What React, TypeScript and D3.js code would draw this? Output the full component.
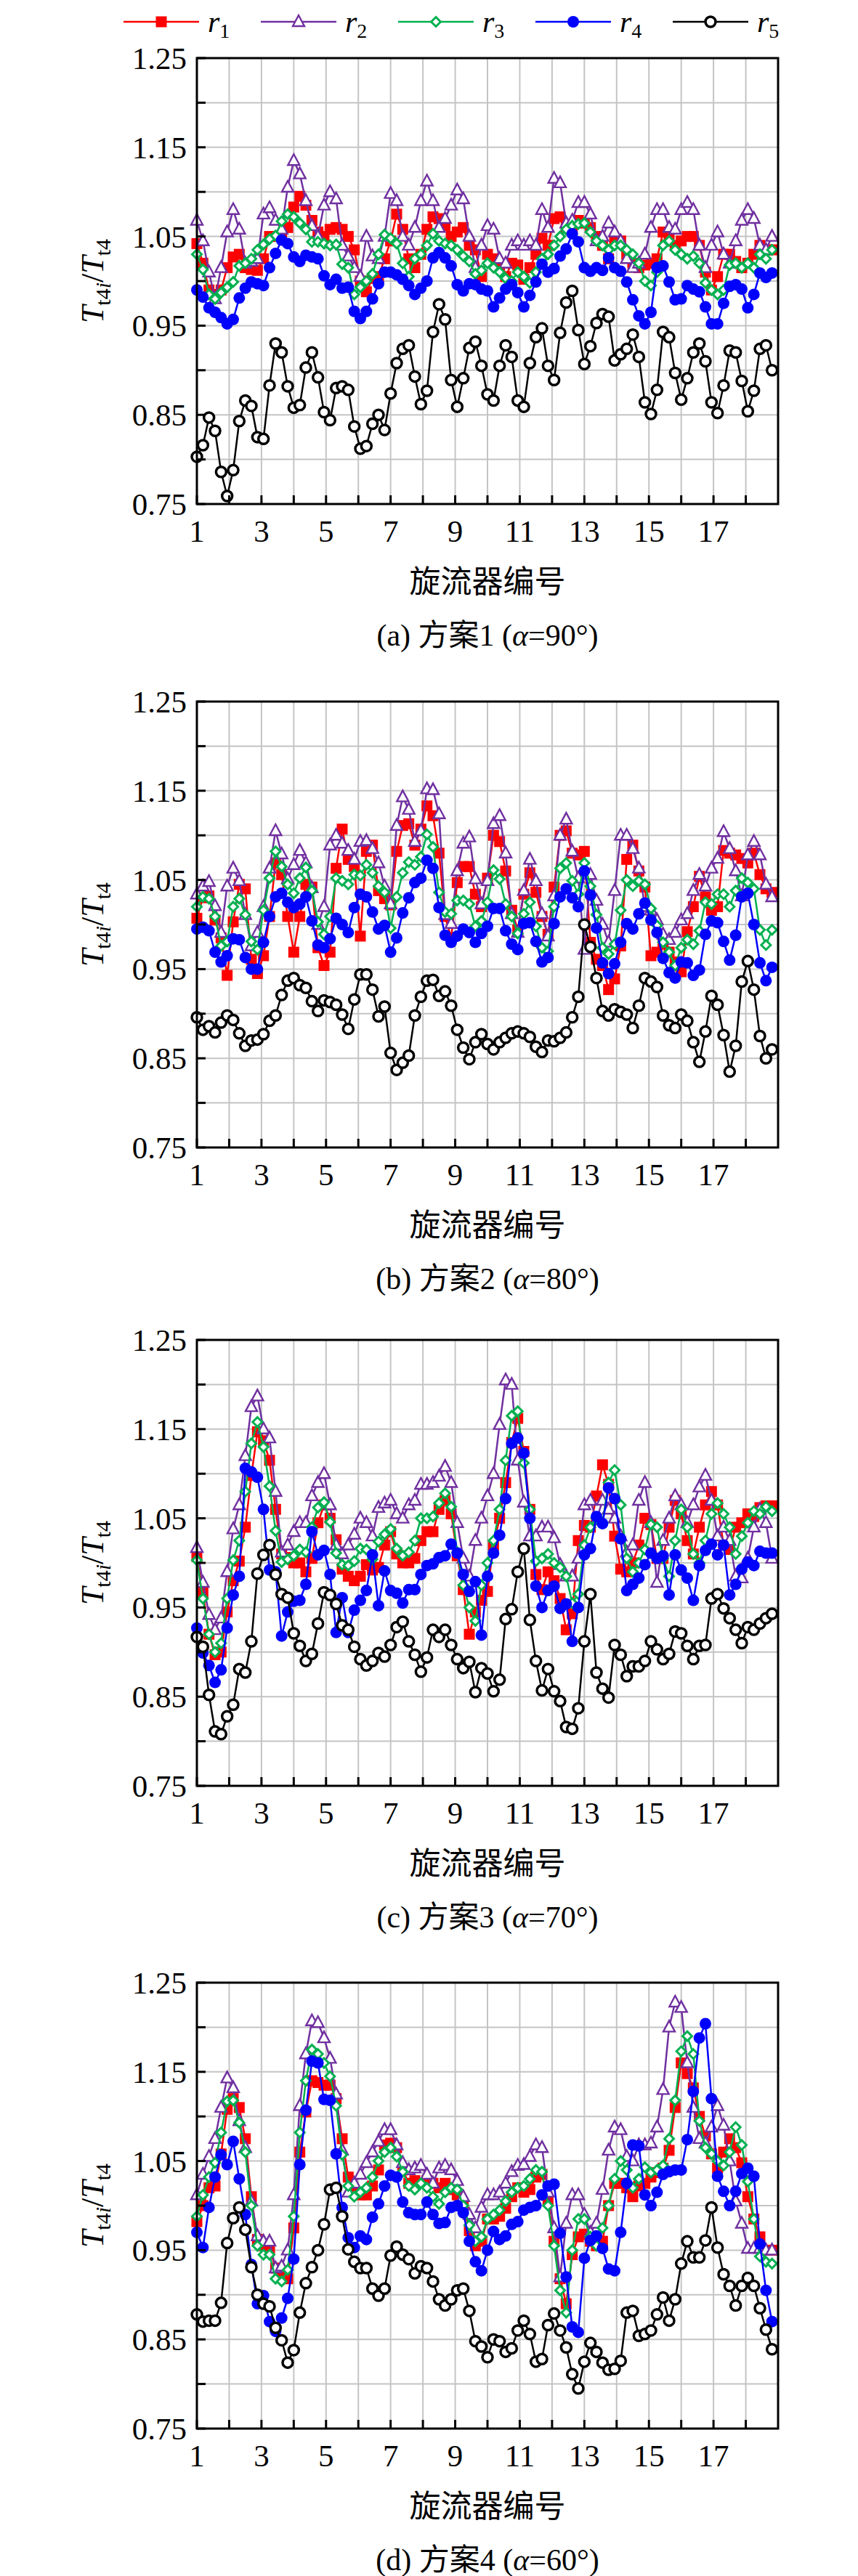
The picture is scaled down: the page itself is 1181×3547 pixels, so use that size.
import { useEffect } from "react";
import * as d3 from "d3";

// swirler position of each of the 96 circumferential samples
const N = 96;
const xs = d3.range(N).map((i) => 1 + (i * 18) / N);

const yTicks = [0.75, 0.85, 0.95, 1.05, 1.15, 1.25];
const xTicks = [1, 3, 5, 7, 9, 11, 13, 15, 17];
const seriesNames = ["1", "2", "3", "4", "5"];
const captions = [
  { tag: "(a) 方案1 (", ang: "90°)" },
  { tag: "(b) 方案2 (", ang: "80°)" },
  { tag: "(c) 方案3 (", ang: "70°)" },
  { tag: "(d) 方案4 (", ang: "60°)" },
];

// ---- panel (a) alpha = 90
const a1 = [1.042,1.020,0.990,0.985,0.990,1.015,1.027,1.030,1.015,1.013,1.012,1.025,1.050,1.050,1.050,1.060,1.083,1.095,1.085,1.068,1.055,1.050,1.058,1.060,1.058,1.050,1.035,1.000,0.988,1.003,1.005,1.025,1.045,1.075,1.058,1.025,1.015,1.030,1.058,1.072,1.070,1.062,1.050,1.055,1.060,1.040,1.035,1.005,1.030,1.025,1.015,1.005,1.020,1.018,1.002,1.015,1.030,1.048,1.040,1.070,1.072,1.060,1.060,1.068,1.065,1.060,1.050,1.040,1.025,1.045,1.045,1.030,1.020,1.015,1.018,1.020,1.025,1.055,1.050,1.040,1.045,1.050,1.050,1.040,1.010,0.990,1.005,1.030,1.030,1.022,1.015,1.020,1.030,1.040,1.035,1.035];
const a2 = [1.068,1.045,1.010,0.980,1.015,1.055,1.080,1.058,1.020,1.022,1.025,1.075,1.082,1.068,1.058,1.105,1.135,1.120,1.090,1.062,1.050,1.085,1.100,1.092,1.040,1.028,1.015,1.005,1.050,1.028,1.025,1.050,1.098,1.090,1.050,1.040,1.060,1.090,1.112,1.090,1.060,1.070,1.085,1.102,1.092,1.050,1.015,1.040,1.062,1.058,1.025,1.020,1.040,1.045,1.040,1.045,1.040,1.080,1.060,1.115,1.110,1.065,1.068,1.088,1.088,1.075,1.045,1.050,1.065,1.055,1.045,1.025,1.015,1.020,1.030,1.060,1.080,1.080,1.060,1.058,1.080,1.088,1.080,1.040,1.015,1.040,1.055,1.030,1.020,1.045,1.068,1.080,1.070,1.040,1.035,1.050];
const a3 = [1.030,1.013,0.985,0.980,0.987,0.993,0.999,1.017,1.020,1.025,1.035,1.041,1.047,1.051,1.067,1.075,1.072,1.065,1.058,1.044,1.044,1.042,1.040,1.041,1.019,1.015,0.985,0.993,1.000,1.008,1.030,1.052,1.048,1.042,1.020,1.005,1.025,1.030,1.040,1.053,1.045,1.042,1.040,1.035,1.028,1.022,1.008,1.012,1.020,1.015,1.010,1.003,1.000,1.010,1.005,0.998,1.010,1.025,1.030,1.040,1.050,1.058,1.062,1.064,1.065,1.055,1.045,1.040,1.035,1.040,1.040,1.035,1.030,1.020,1.000,0.995,1.010,1.040,1.045,1.035,1.030,1.025,1.028,1.020,0.998,0.990,0.985,0.990,1.018,1.020,1.015,1.020,1.015,1.030,1.025,1.035];
const a4 = [0.990,0.982,0.970,0.965,0.959,0.952,0.957,0.981,0.992,0.999,0.997,0.995,1.015,1.031,1.046,1.042,1.027,1.022,1.029,1.027,1.025,1.006,0.996,1.002,0.992,0.993,0.966,0.958,0.966,0.980,0.997,1.010,1.010,1.007,1.002,0.995,0.985,0.992,1.000,1.026,1.032,1.026,1.017,0.996,0.989,0.997,0.996,0.991,0.989,0.971,0.981,0.991,0.996,0.987,0.971,0.984,0.999,1.019,1.010,1.014,1.028,1.036,1.053,1.044,1.015,1.011,1.015,1.012,1.026,1.015,1.011,0.999,0.979,0.961,0.952,0.965,1.015,1.017,0.999,0.979,0.980,0.995,0.991,0.988,0.971,0.952,0.952,0.975,0.994,0.996,0.991,0.970,0.985,1.009,1.004,1.009];
const a5 = [0.803,0.816,0.847,0.832,0.786,0.759,0.788,0.843,0.866,0.860,0.825,0.823,0.883,0.930,0.920,0.882,0.858,0.861,0.903,0.920,0.892,0.853,0.844,0.880,0.882,0.878,0.837,0.812,0.815,0.840,0.850,0.833,0.874,0.908,0.924,0.928,0.893,0.862,0.877,0.943,0.974,0.957,0.889,0.859,0.891,0.925,0.932,0.905,0.873,0.866,0.905,0.928,0.915,0.866,0.859,0.908,0.937,0.947,0.905,0.889,0.942,0.976,0.989,0.945,0.907,0.927,0.953,0.963,0.960,0.911,0.918,0.924,0.940,0.915,0.864,0.851,0.878,0.943,0.937,0.897,0.867,0.891,0.920,0.930,0.910,0.864,0.852,0.883,0.922,0.920,0.888,0.854,0.877,0.924,0.928,0.900];

// ---- panel (b) alpha = 80
const b1 = [1.007,1.030,1.032,1.005,0.985,0.943,1.003,1.045,1.040,0.961,0.945,0.965,1.009,1.069,1.056,1.009,0.969,1.009,1.045,1.042,0.974,0.954,0.969,1.063,1.107,1.073,1.065,0.987,1.082,1.089,1.038,1.029,1.022,1.082,1.111,1.113,1.089,1.107,1.133,1.122,1.080,1.009,0.985,1.047,1.065,1.065,1.034,1.020,1.052,1.100,1.093,1.060,1.016,0.994,1.034,1.058,1.036,1.009,0.989,1.042,1.100,1.105,1.080,1.078,1.082,0.980,0.961,0.954,0.927,0.939,0.976,1.073,1.089,1.060,1.042,0.965,0.969,0.978,0.969,0.958,0.947,0.992,1.020,1.054,1.031,1.016,1.020,1.083,1.080,1.078,1.074,1.069,1.080,1.056,1.040,1.036];
const b2 = [1.034,1.043,1.048,1.021,0.991,1.043,1.063,1.049,1.011,0.976,0.991,1.020,1.063,1.105,1.079,1.051,1.067,1.083,1.069,1.041,1.000,1.020,1.089,1.100,1.091,1.083,1.073,1.093,1.094,1.085,1.069,1.043,1.023,1.111,1.143,1.129,1.093,1.105,1.152,1.151,1.124,1.011,1.001,1.060,1.091,1.098,1.051,1.023,1.049,1.113,1.122,1.080,1.012,0.991,1.038,1.073,1.049,1.012,0.987,1.032,1.100,1.118,1.082,1.052,0.972,1.056,1.027,1.000,0.980,1.038,1.100,1.100,1.085,1.063,1.020,1.016,1.005,0.989,0.983,0.991,1.005,1.012,1.038,1.056,1.043,1.063,1.074,1.104,1.085,1.060,1.032,1.078,1.093,1.078,1.045,1.031];
const b3 = [1.020,1.031,1.029,1.009,0.976,0.981,1.020,1.029,1.011,0.981,0.972,1.016,1.052,1.082,1.065,1.045,1.035,1.052,1.064,1.038,1.003,0.989,1.009,1.052,1.049,1.045,1.056,1.055,1.067,1.058,1.043,1.036,0.996,1.031,1.058,1.070,1.067,1.076,1.101,1.087,1.036,1.014,1.012,1.027,1.027,1.023,0.998,1.004,1.025,1.061,1.051,1.023,1.009,0.990,1.012,1.025,0.998,0.974,0.970,1.020,1.063,1.069,1.049,1.034,1.069,1.043,1.011,0.974,0.967,0.978,1.016,1.050,1.043,1.049,1.045,1.018,0.999,0.980,0.969,0.954,0.974,0.983,0.978,0.993,1.025,1.023,1.034,1.034,1.020,1.038,1.052,1.047,1.040,0.994,0.977,0.994];
const b4 = [0.995,0.997,0.993,0.969,0.958,0.965,0.984,0.983,0.963,0.950,0.950,0.980,1.009,1.031,1.035,1.025,1.019,1.023,1.031,1.004,0.977,0.974,0.984,1.007,1.000,0.991,1.019,1.034,1.031,1.014,0.995,0.999,0.969,0.985,1.013,1.030,1.047,1.052,1.072,1.063,1.019,0.988,0.980,0.987,0.995,0.991,0.980,0.990,0.998,1.018,1.018,0.993,0.978,0.972,1.001,1.002,0.981,0.958,0.963,1.001,1.031,1.040,1.030,1.020,1.060,1.033,0.996,0.957,0.945,0.956,0.980,1.001,0.995,1.012,1.024,1.005,0.991,0.962,0.946,0.940,0.958,0.957,0.943,0.949,0.989,1.004,1.002,0.981,0.960,0.988,1.031,1.035,1.000,0.957,0.937,0.952];
const b5 = [0.896,0.882,0.886,0.879,0.890,0.898,0.893,0.878,0.864,0.870,0.871,0.877,0.892,0.898,0.921,0.937,0.940,0.932,0.929,0.914,0.903,0.915,0.913,0.910,0.899,0.883,0.916,0.944,0.944,0.927,0.897,0.908,0.856,0.837,0.845,0.853,0.898,0.919,0.937,0.938,0.920,0.925,0.909,0.882,0.862,0.849,0.868,0.877,0.866,0.860,0.868,0.873,0.878,0.880,0.878,0.874,0.863,0.857,0.870,0.869,0.873,0.879,0.896,0.919,1.000,0.975,0.940,0.903,0.898,0.905,0.902,0.899,0.884,0.909,0.940,0.936,0.930,0.898,0.887,0.884,0.899,0.892,0.868,0.846,0.880,0.920,0.910,0.876,0.835,0.864,0.936,0.959,0.927,0.875,0.850,0.860];

// ---- panel (c) alpha = 70
const c1 = [1.007,0.967,0.920,0.897,0.900,0.945,0.980,1.002,1.040,1.098,1.147,1.137,1.115,1.060,1.010,1.006,1.000,1.000,0.990,1.005,1.045,1.065,1.050,1.026,0.993,0.985,0.980,0.985,0.998,0.992,0.995,1.020,1.035,1.010,1.000,1.000,1.005,1.025,1.035,1.035,1.060,1.070,1.055,1.008,0.970,0.920,0.945,0.958,0.968,1.020,1.050,1.090,1.135,1.162,1.125,1.060,0.987,0.970,0.990,0.980,0.960,0.925,0.943,1.025,1.042,1.040,1.075,1.110,1.088,1.030,0.993,0.990,1.000,1.020,1.050,1.043,1.005,1.005,1.040,1.070,1.055,1.025,1.010,1.040,1.065,1.080,1.065,1.020,1.015,1.040,1.045,1.055,1.052,1.062,1.064,1.064];
const c2 = [1.017,0.978,0.942,0.925,0.938,0.990,1.038,1.065,1.120,1.175,1.187,1.150,1.140,1.080,1.012,1.020,1.035,1.045,1.045,1.075,1.090,1.100,1.065,1.020,1.010,1.020,1.032,1.050,1.045,1.030,1.062,1.067,1.070,1.055,1.050,1.065,1.070,1.088,1.088,1.090,1.097,1.108,1.090,1.045,1.005,0.985,1.025,1.050,1.075,1.100,1.155,1.205,1.200,1.115,1.068,1.030,1.030,1.040,1.040,1.028,0.998,0.985,0.985,1.005,1.065,1.070,1.048,1.070,1.060,1.050,1.030,1.012,1.020,1.070,1.090,1.045,0.978,1.025,1.050,1.075,1.065,1.045,1.065,1.085,1.098,1.070,1.030,1.040,1.025,0.985,0.983,1.005,1.040,1.060,1.045,1.005];
const c3 = [1.003,0.960,0.920,0.900,0.910,0.960,1.003,1.025,1.080,1.134,1.158,1.130,1.086,1.036,1.001,1.004,1.008,1.015,1.012,1.040,1.062,1.068,1.046,1.011,0.998,0.997,1.002,1.016,1.015,1.004,1.024,1.032,1.038,1.016,1.008,1.012,1.025,1.050,1.050,1.052,1.067,1.078,1.063,1.012,0.975,0.950,0.935,0.975,1.000,1.025,1.060,1.115,1.165,1.170,1.112,1.060,1.002,1.005,1.010,1.000,0.995,0.985,0.955,0.965,1.020,1.040,1.050,1.045,1.090,1.104,1.065,1.005,0.990,1.000,1.015,1.043,1.040,1.005,0.985,1.025,1.060,1.040,1.010,1.000,1.025,1.055,1.067,1.055,1.040,1.010,1.030,1.045,1.058,1.055,1.063,1.058];
const c4 = [0.927,0.899,0.885,0.866,0.880,0.927,0.964,0.985,1.106,1.102,1.096,1.060,0.992,0.990,0.918,0.945,0.957,0.958,0.976,1.035,1.009,1.014,0.987,0.922,0.961,0.922,0.947,0.958,0.969,1.009,0.952,0.991,0.969,0.966,0.955,0.970,0.970,0.987,0.997,0.999,1.006,1.008,1.021,1.011,0.987,0.968,0.979,0.919,0.985,1.011,1.031,1.072,1.134,1.140,1.123,1.050,0.974,0.950,0.969,0.974,0.949,0.954,0.912,0.950,1.009,1.016,1.052,1.044,1.084,1.072,1.027,0.969,0.976,0.983,0.998,1.011,1.005,1.008,0.964,1.009,0.992,0.983,0.958,0.997,1.014,1.021,1.009,1.020,0.964,0.976,0.993,1.001,0.997,1.013,1.011,1.011];
const c5 = [0.917,0.906,0.852,0.811,0.808,0.828,0.841,0.881,0.877,0.912,0.988,1.009,1.020,0.987,0.965,0.961,0.921,0.907,0.890,0.898,0.932,0.967,0.964,0.954,0.930,0.925,0.906,0.892,0.885,0.890,0.899,0.895,0.908,0.928,0.934,0.912,0.897,0.878,0.894,0.925,0.917,0.925,0.908,0.892,0.882,0.889,0.855,0.882,0.876,0.856,0.869,0.937,0.948,0.990,1.016,0.936,0.890,0.857,0.881,0.856,0.845,0.816,0.814,0.837,0.912,0.965,0.877,0.859,0.849,0.908,0.897,0.873,0.884,0.884,0.890,0.912,0.903,0.892,0.898,0.923,0.921,0.907,0.892,0.907,0.908,0.960,0.965,0.949,0.938,0.925,0.910,0.928,0.925,0.932,0.938,0.943];

// ---- panel (d) alpha = 60
const d1 = [0.982,1.000,1.020,1.022,1.058,1.108,1.120,1.110,1.075,1.010,0.962,0.955,0.952,0.930,0.920,0.918,0.975,1.060,1.105,1.140,1.138,1.135,1.135,1.120,1.075,1.032,1.015,1.012,1.012,1.022,1.040,1.068,1.070,1.065,1.040,1.025,1.028,1.025,1.028,1.025,1.020,1.025,1.018,1.012,1.000,0.972,0.955,0.960,0.985,0.985,0.988,0.997,1.010,1.020,1.015,1.018,1.032,1.035,1.005,0.960,0.918,0.890,0.945,0.965,0.968,0.960,0.955,0.960,1.000,1.025,1.025,1.020,1.010,1.022,1.025,1.032,1.037,1.042,1.062,1.110,1.160,1.148,1.132,1.100,1.078,1.058,1.042,1.060,1.075,1.065,1.048,1.010,0.985,0.965,0.950,0.950];
const d2 = [1.012,1.035,1.055,1.075,1.110,1.143,1.132,1.095,1.065,1.005,0.966,0.960,0.960,0.930,0.932,0.950,1.012,1.112,1.170,1.207,1.205,1.188,1.165,1.125,1.062,1.015,1.025,1.035,1.048,1.060,1.072,1.085,1.085,1.068,1.048,1.040,1.042,1.045,1.035,1.025,1.042,1.045,1.040,1.028,1.010,0.990,0.975,0.998,1.012,1.012,1.015,1.025,1.038,1.045,1.046,1.055,1.068,1.065,1.015,0.975,0.920,0.980,1.012,1.012,0.990,0.970,0.980,1.018,1.062,1.088,1.085,1.055,1.050,1.068,1.068,1.070,1.088,1.130,1.200,1.228,1.222,1.160,1.110,1.075,1.070,1.088,1.112,1.090,1.050,1.005,0.980,0.952,0.952,0.952,0.950,0.950];
const d3v = [0.988,1.012,1.032,1.048,1.082,1.117,1.118,1.093,1.060,1.000,0.955,0.945,0.945,0.918,0.915,0.928,0.988,1.082,1.140,1.175,1.170,1.160,1.145,1.112,1.057,1.022,1.010,1.015,1.020,1.032,1.050,1.060,1.065,1.055,1.038,1.022,1.018,1.025,1.020,1.010,1.002,1.015,1.020,1.018,1.000,0.978,0.960,0.965,0.985,0.990,0.995,1.005,1.015,1.020,1.022,1.030,1.040,1.038,1.000,0.955,0.905,0.880,0.950,0.985,0.985,0.965,0.955,0.975,1.000,1.030,1.050,1.040,1.020,1.030,1.043,1.037,1.040,1.045,1.075,1.118,1.173,1.190,1.170,1.095,1.065,1.058,1.050,1.045,1.060,1.088,1.068,1.027,0.985,0.943,0.937,0.935];
const d4 = [0.970,0.953,0.998,1.032,1.057,1.046,1.072,1.030,0.990,0.934,0.890,0.899,0.870,0.859,0.874,0.896,0.940,1.046,1.107,1.162,1.160,1.119,1.118,1.058,0.998,0.964,0.953,0.966,0.962,0.987,1.002,1.022,1.034,1.032,1.004,0.992,0.990,0.990,1.004,0.990,0.980,0.981,0.998,1.000,0.992,0.960,0.937,0.927,0.950,0.971,0.962,0.966,0.979,0.982,0.995,0.998,1.000,1.012,1.022,1.024,0.969,0.920,0.864,0.858,0.941,0.961,0.966,0.952,0.929,0.927,0.970,1.025,1.068,1.067,1.012,1.000,1.015,1.035,1.038,1.040,1.040,1.074,1.128,1.188,1.204,1.120,1.033,1.016,1.000,1.016,1.036,1.042,1.033,0.957,0.905,0.870];
const d5 = [0.878,0.870,0.871,0.871,0.891,0.958,0.986,0.998,0.973,0.931,0.900,0.890,0.887,0.863,0.849,0.824,0.838,0.880,0.913,0.931,0.950,0.979,1.018,1.020,0.988,0.951,0.937,0.930,0.930,0.907,0.899,0.907,0.944,0.954,0.945,0.940,0.924,0.932,0.930,0.915,0.895,0.888,0.895,0.905,0.907,0.882,0.848,0.842,0.830,0.850,0.848,0.836,0.840,0.860,0.871,0.856,0.825,0.828,0.866,0.879,0.860,0.841,0.811,0.795,0.825,0.846,0.836,0.824,0.816,0.817,0.826,0.880,0.882,0.854,0.856,0.860,0.878,0.897,0.871,0.895,0.935,0.960,0.942,0.942,0.961,0.998,0.953,0.923,0.910,0.888,0.910,0.919,0.910,0.885,0.861,0.839];

const panels = [
  [a1, a2, a3, a4, a5],
  [b1, b2, b3, b4, b5],
  [c1, c2, c3, c4, c5],
  [d1, d2, d3v, d4, d5],
];

const colors = ["#ff0000", "#7030a0", "#00b050", "#0000ff", "#000000"];
const serif = "'Liberation Serif', 'Times New Roman', 'Noto Sans CJK SC', serif";
const cjk = "'Noto Sans CJK SC', 'Liberation Serif', serif";

const W = 1181;
const H = 3547;
const left = 271;
const right = 1071;
const panelTop = [80, 966, 1845, 2730];
const panelH = 614;

function Marker({ s, x, y }: { s: number; x: number; y: number }) {
  const c = colors[s];
  if (s === 0) return <rect x={x - 7.5} y={y - 7.5} width={15} height={15} fill={c} />;
  if (s === 1)
    return (
      <path
        d={`M${x},${y - 9}L${x + 8},${y + 6}L${x - 8},${y + 6}Z`}
        fill="#fff"
        stroke={c}
        strokeWidth={2.4}
      />
    );
  if (s === 2)
    return (
      <path
        d={`M${x},${y - 6.5}L${x + 6.5},${y}L${x},${y + 6.5}L${x - 6.5},${y}Z`}
        fill="#fff"
        stroke={c}
        strokeWidth={3}
      />
    );
  if (s === 3) return <circle cx={x} cy={y} r={8} fill={c} />;
  return <circle cx={x} cy={y} r={7} fill="#fff" stroke={c} strokeWidth={3.5} />;
}

function Panel({ idx }: { idx: number }) {
  const top = panelTop[idx];
  const x = d3.scaleLinear().domain([1, 19]).range([left, right]);
  const y = d3.scaleLinear().domain([0.75, 1.25]).range([top + panelH, top]);
  const line = d3
    .line<number>()
    .x((_, i) => x(xs[i]))
    .y((d) => y(d));
  const hGrid = d3.range(16, 25).map((v) => v * 0.05);
  const vGrid = d3.range(2, 19);
  const cap = captions[idx];
  const cx = (left + right) / 2;
  return (
    <g>
      {hGrid.map((v) => (
        <line key={"h" + v} x1={left} x2={right} y1={y(v)} y2={y(v)} stroke="#c4c4c4" strokeWidth={2} />
      ))}
      {vGrid.map((v) => (
        <line key={"v" + v} x1={x(v)} x2={x(v)} y1={top} y2={top + panelH} stroke="#c4c4c4" strokeWidth={2} />
      ))}
      {panels[idx].map((data, s) => (
        <g key={s}>
          <path d={line(data) || ""} fill="none" stroke={colors[s]} strokeWidth={2.5} />
          {data.map((v, i) => (
            <Marker key={i} s={s} x={x(xs[i])} y={y(v)} />
          ))}
        </g>
      ))}
      <rect x={left} y={top} width={right - left} height={panelH} fill="none" stroke="#000" strokeWidth={3} />
      {d3.range(1, 19).map((v) => (
        <line key={"xt" + v} x1={x(v)} x2={x(v)} y1={top + panelH} y2={top + panelH - 12} stroke="#000" strokeWidth={3} />
      ))}
      {d3.range(15, 26).map((v) => (
        <line key={"yt" + v} x1={left} x2={left + 12} y1={y(v * 0.05)} y2={y(v * 0.05)} stroke="#000" strokeWidth={3} />
      ))}
      {yTicks.map((v) => (
        <text key={"yl" + v} x={left - 14} y={y(v) + 15} textAnchor="end" fontSize={43} fontFamily={serif}>
          {v.toFixed(2)}
        </text>
      ))}
      {xTicks.map((v) => (
        <text key={"xl" + v} x={x(v)} y={top + panelH + 52} textAnchor="middle" fontSize={43} fontFamily={serif}>
          {v}
        </text>
      ))}
      <text x={cx} y={top + panelH + 122} textAnchor="middle" fontSize={43} fontFamily={cjk}>
        旋流器编号
      </text>
      <text x={cx} y={top + panelH + 195} textAnchor="middle" fontSize={42} fontFamily={serif}>
        {cap.tag}
        <tspan fontStyle="italic">α</tspan>={cap.ang}
      </text>
      <text
        transform={`translate(142,${top + panelH / 2}) rotate(-90)`}
        textAnchor="middle"
        fontSize={44}
        fontFamily={serif}
      >
        <tspan fontStyle="italic">T</tspan>
        <tspan fontSize={30} dy={10}>t4</tspan>
        <tspan fontSize={30} fontStyle="italic">i</tspan>
        <tspan dy={-10}>/</tspan>
        <tspan fontStyle="italic">T</tspan>
        <tspan fontSize={30} dy={10}>t4</tspan>
      </text>
    </g>
  );
}

function Legend() {
  const starts = [170, 359, 548, 737, 926];
  return (
    <g>
      {seriesNames.map((n, s) => (
        <g key={n}>
          <line x1={starts[s]} x2={starts[s] + 104} y1={30} y2={30} stroke={colors[s]} strokeWidth={2.5} />
          <Marker s={s} x={starts[s] + 52} y={30} />
          <text x={starts[s] + 116} y={44} fontSize={42} fontFamily={serif}>
            <tspan fontStyle="italic">r</tspan>
            <tspan fontSize={28} dy={8}>{n}</tspan>
          </text>
        </g>
      ))}
    </g>
  );
}

export default function App() {
  useEffect(() => {
    document.body.style.margin = "0";
  }, []);
  return (
    <svg width={W} height={H} style={{ display: "block", background: "#fff" }}>
      <rect width={W} height={H} fill="#fff" />
      <Legend />
      {[0, 1, 2, 3].map((i) => (
        <Panel key={i} idx={i} />
      ))}
    </svg>
  );
}
